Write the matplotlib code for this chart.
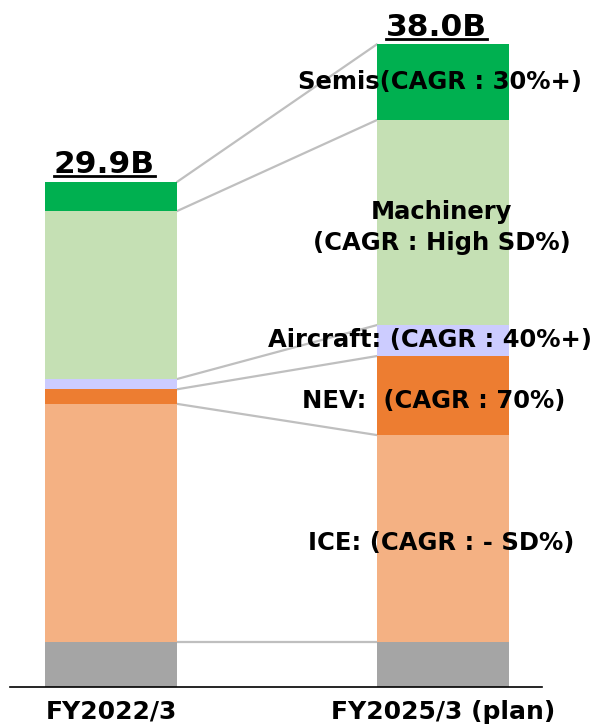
import matplotlib
matplotlib.use("Agg")
import matplotlib.pyplot as plt
import numpy as np

# data (billion)
periods = ["FY2022/3", "FY2025/3 (plan)"]
segments = ["Other", "ICE", "NEV", "Aircraft", "Machinery", "Semis"]
fy2022 = [2.68, 14.07, 0.87, 0.61, 9.94, 1.73]
fy2025 = [2.68, 12.23, 4.67, 1.83, 12.13, 4.48]
totals = ["29.9B", "38.0B"]
seg_labels = ["", "ICE: (CAGR : - SD%)", "NEV:  (CAGR : 70%)",
              "Aircraft: (CAGR : 40%+)", "Machinery\n(CAGR : High SD%)",
              "Semis(CAGR : 30%+)"]
colors = ["#a5a5a5", "#f4b183", "#ed7d31", "#ccccff", "#c5e0b4", "#00b050"]

plt.rcParams['font.family'] = 'DejaVu Sans'

fig = plt.figure(figsize=(6.09, 7.27), dpi=100)
ax = fig.add_axes([10/609, 40/727, 532/609, 676/727])

x = np.array([0, 1])
w = 0.4
vals = np.array([fy2022, fy2025])
bottoms = np.zeros(2)
for i, seg in enumerate(segments):
    ax.bar(x, vals[:, i], w, bottom=bottoms, color=colors[i],
           edgecolor='none', zorder=2)
    bottoms = bottoms + vals[:, i]

# connector lines between segment boundaries
cum = np.cumsum(vals, axis=1)
for i in range(len(segments)):
    ax.plot([x[0] + w/2, x[1] - w/2], [cum[0, i], cum[1, i]],
            color='#bfbfbf', lw=1.6, zorder=1)

# segment labels on the plan bar (small nudges to sit like the original)
xoff = [0, -0.006, -0.027, -0.04, -0.005, -0.01]
yoff = [0, -0.25, -0.35, 0.05, -0.3, 0.0]
for i, lab in enumerate(seg_labels):
    if not lab:
        continue
    mid = cum[1, i] - vals[1, i] / 2
    ax.text(x[1] + xoff[i], mid + yoff[i], lab, ha='center', va='center',
            fontsize=17.5, fontweight='bold', color='black',
            linespacing=1.38, zorder=4, clip_on=False)

ax.set_xlim(-0.304, 1.298)
ax.set_ylim(0, 40)
ax.set_xticks(x)
ax.set_xticklabels(periods, fontsize=18, fontweight='bold')
ax.tick_params(axis='x', length=0, pad=9)
ax.set_yticks([])
for s in ['top', 'right', 'left']:
    ax.spines[s].set_visible(False)
ax.spines['bottom'].set_linewidth(1.2)
ax.spines['bottom'].set_zorder(5)

# totals, underlined
tot_texts = []
for xi, t, tot in zip(x, totals, cum[:, -1]):
    tt = ax.text(xi - 0.02, tot + 0.53, t, ha='center', va='baseline',
                 fontsize=22.5, fontweight='bold', color='black')
    tot_texts.append(tt)

fig.canvas.draw()
r = fig.canvas.get_renderer()
inv = fig.transFigure.inverted()
for tt, tot in zip(tot_texts, cum[:, -1]):
    bb = tt.get_window_extent(renderer=r)
    ybase = ax.transData.transform((0, tot + 0.53))[1] - 3
    (x0, y0), (x1, y1) = inv.transform([[bb.x0, ybase], [bb.x1, ybase]])
    fig.add_artist(plt.Line2D([x0, x1], [y0, y0], color='black', lw=2))

plt.savefig("out.png", dpi=100)
